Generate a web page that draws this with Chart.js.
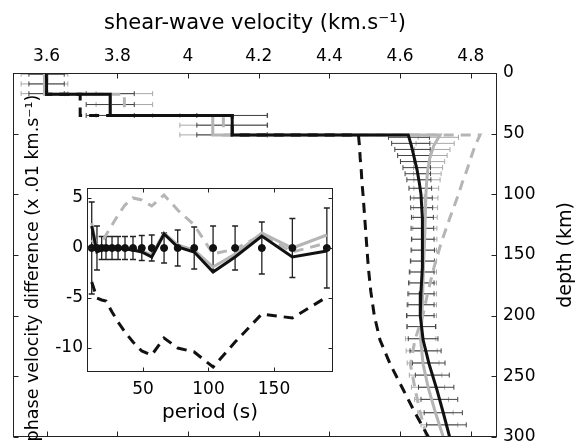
<!DOCTYPE html>
<html>
<head>
<meta charset="utf-8">
<script src="https://cdn.jsdelivr.net/npm/chart.js@4.4.0/dist/chart.umd.min.js"></script>
<style>
    html, body { margin: 0; padding: 0; background: #fff; }
    #wrap { position: relative; width: 581px; height: 444px; }
    #wrap canvas { position: absolute; left: 0; top: 0; }
</style>
</head>
<body>
<div id="wrap">
    <canvas id="mainChart" width="581" height="444"></canvas>
    <canvas id="insetChart" width="581" height="444"></canvas>
</div>
<script>
// ---- main plot: shear-wave velocity vs depth ----
const velTicks = [3.6, 3.8, 4, 4.2, 4.4, 4.6, 4.8];
const velTickLabels = ["3.6", "3.8", "4", "4.2", "4.4", "4.6", "4.8"];
const depthTicks = [0, 50, 100, 150, 200, 250, 300];
const depthTickLabels = ["0", "50", "100", "150", "200", "250", "300"];

// crustal layers (top depths) and layer velocities of each model
const crustTops = [0, 17.5, 35, 51];
const blackSolidCrust = [3.6, 3.78, 4.125];
const blackDashCrust = [3.6, 3.695, 4.125];
const graySolidCrust = [3.594, 3.78, 4.07];
const grayDashCrust = [3.6, 3.82, 4.1];

// mantle part
const mantleDepth = [51, 60, 70, 80, 90, 100, 120, 140, 160, 180, 200, 220, 240, 260, 280, 300];
const blackSolidMantle = [4.623, 4.632, 4.64, 4.648, 4.654, 4.659, 4.663, 4.664, 4.662, 4.659, 4.657, 4.665, 4.682, 4.703, 4.722, 4.74];
const blackDashMantle = [4.482, 4.485, 4.487, 4.49, 4.492, 4.495, 4.5, 4.505, 4.51, 4.517, 4.527, 4.543, 4.572, 4.607, 4.642, 4.68];
const graySolidMantle = [4.713, 4.695, 4.684, 4.678, 4.675, 4.673, 4.671, 4.669, 4.666, 4.664, 4.662, 4.658, 4.665, 4.68, 4.7, 4.722];
const grayDashMantle = [4.826, 4.812, 4.8, 4.789, 4.776, 4.765, 4.74, 4.716, 4.696, 4.679, 4.664, 4.642, 4.629, 4.642, 4.657, 4.675];

// horizontal error bars
const crustBarDepth = [1, 9, 17, 17, 26, 35, 35, 43, 51];
const crustDarkVs = [3.6, 3.6, 3.6, 3.78, 3.78, 3.78, 4.125, 4.125, 4.125];
const crustDarkErr = [0.05, 0.05, 0.05, 0.068, 0.068, 0.068, 0.1, 0.1, 0.1];
const crustGrayVs = [3.594, 3.594, 3.594, 3.82, 3.82, 3.82, 4.1, 4.1, 4.1];
const crustGrayErr = [0.066, 0.066, 0.066, 0.08, 0.08, 0.08, 0.123, 0.123, 0.123];

const mantleBarDepth = [53, 58, 63, 68, 73, 78, 83, 88, 95, 103, 111, 119, 128, 137, 146, 155, 164, 173, 182, 191, 200, 209, 219, 229, 239, 249, 259, 269, 280, 290];
const mantleDarkVs = [4.625, 4.63, 4.635, 4.639, 4.643, 4.647, 4.65, 4.653, 4.657, 4.66, 4.661, 4.663, 4.663, 4.664, 4.664, 4.663, 4.661, 4.66, 4.659, 4.658, 4.657, 4.66, 4.665, 4.672, 4.681, 4.691, 4.702, 4.711, 4.722, 4.731];
const mantleDarkErr = [0.058, 0.054, 0.05, 0.046, 0.042, 0.039, 0.036, 0.034, 0.032, 0.031, 0.031, 0.031, 0.032, 0.032, 0.033, 0.034, 0.035, 0.036, 0.037, 0.038, 0.039, 0.04, 0.042, 0.044, 0.046, 0.048, 0.05, 0.052, 0.054, 0.056];
const mantleGrayVs = [4.708, 4.699, 4.691, 4.686, 4.682, 4.679, 4.677, 4.676, 4.674, 4.673, 4.672, 4.671, 4.67, 4.669, 4.668, 4.667, 4.666, 4.665, 4.664, 4.663, 4.662, 4.66, 4.658, 4.661, 4.665, 4.672, 4.679, 4.689, 4.7, 4.711];
const mantleGrayErr = [0.057, 0.054, 0.05, 0.047, 0.044, 0.041, 0.039, 0.037, 0.035, 0.034, 0.034, 0.034, 0.034, 0.035, 0.035, 0.036, 0.037, 0.038, 0.039, 0.04, 0.041, 0.042, 0.043, 0.044, 0.045, 0.046, 0.047, 0.048, 0.05, 0.052];

// ---- inset: phase velocity difference vs period ----
const periodTicks = [50, 100, 150];
const periodTickLabels = ["50", "100", "150"];
const diffTicks = [-10, -5, 0, 5];
const diffTickLabels = ["-10", "-5", "0", "5"];

const periods = [10.9, 14.9, 18.5, 21.8, 26.4, 31, 36.3, 42.4, 49.1, 56.7, 66.1, 76.5, 89.1, 103.5, 120.3, 140.7, 164, 190.3];
const obsDiff = [0, 0, 0, 0, 0, 0, 0, 0, 0, 0, 0, 0, 0, 0, 0, 0, 0, 0];
const obsErr = [4.6, 2.2, 1.15, 1.15, 1.15, 1.15, 1.15, 1.15, 1.25, 1.3, 1.5, 1.8, 2.1, 2.2, 2.2, 2.6, 2.95, 4.0];
const blackSolidDiff = [2.2, -0.4, -0.2, 0.1, 0, 0, -0.1, -0.2, -0.4, -0.9, 1.4, 0.1, -0.4, -2.4, -0.9, 1.2, -0.9, -0.3];
const graySolidDiff = [2.5, -0.2, 0, 0.2, 0.1, 0.1, 0, -0.1, -0.3, -0.7, 1.5, 0.3, -0.2, -1.9, -0.6, 1.5, 0, 1.3];
const grayDashDiff = [0.8, 0.2, 0.6, 1.3, 2.3, 3.3, 4.3, 5.0, 4.8, 4.2, 5.3, 3.8, 2.3, -0.6, -0.1, 1.3, -0.4, 0.5];
const blackDashDiff = [-3.4, -5.0, -5.2, -5.3, -6.4, -7.4, -8.4, -9.4, -10.3, -10.7, -9.0, -10.0, -10.4, -11.9, -9.4, -6.6, -7.0, -4.9];

const BLACK = "#111";
const GRAY = "#b5b5b5";
const DASH = [10, 7];

Chart.defaults.font.family = "'DejaVu Sans', sans-serif";
Chart.defaults.color = "#000";

function profile(crust, mantle) {
    const pts = [];
    crust.forEach((v, i) => {
        pts.push({ x: v, y: crustTops[i] }, { x: v, y: crustTops[i + 1] });
    });
    mantle.forEach((v, i) => pts.push({ x: v, y: mantleDepth[i] }));
    return pts;
}

function pairs(xs, ys) {
    return xs.map((x, i) => ({ x: x, y: ys[i] }));
}

function fixedTicks(values) {
    return (scale) => { scale.ticks = values.map((v) => ({ value: v })); };
}

// pin an axis box to a set size and drop the label overflow padding
function pinSize(key, size) {
    return (s) => {
        s[key] = size;
        s.paddingTop = 0; s.paddingBottom = 0;
        s.paddingLeft = 0; s.paddingRight = 0;
    };
}

// frame + inward ticks on all four sides (matlab box)
const boxPlugin = {
    id: "box",
    beforeDraw(chart, args, opts) {
        if (!opts.fill) return;
        const { ctx, chartArea: a } = chart;
        ctx.save();
        ctx.fillStyle = opts.fill;
        ctx.fillRect(a.left, a.top, a.right - a.left, a.bottom - a.top);
        ctx.restore();
    },
    afterDraw(chart, args, opts) {
        const { ctx, chartArea: a } = chart;
        const len = opts.len || 5;
        const l = Math.round(a.left) + 0.5, r = Math.round(a.right) - 0.5;
        const t = Math.round(a.top) + 0.5, b = Math.round(a.bottom) - 0.5;
        ctx.save();
        ctx.strokeStyle = opts.color || "#222";
        ctx.lineWidth = 1;
        ctx.beginPath();
        chart.scales.x.ticks.forEach((tk) => {
            const px = Math.round(chart.scales.x.getPixelForValue(tk.value)) + 0.5;
            ctx.moveTo(px, t); ctx.lineTo(px, t + len);
            ctx.moveTo(px, b); ctx.lineTo(px, b - len);
        });
        chart.scales.y.ticks.forEach((tk) => {
            const py = Math.round(chart.scales.y.getPixelForValue(tk.value)) + 0.5;
            ctx.moveTo(l, py); ctx.lineTo(l + len, py);
            ctx.moveTo(r, py); ctx.lineTo(r - len, py);
        });
        ctx.stroke();
        ctx.strokeRect(l, t, r - l, b - t);
        ctx.restore();
    }
};

// error bars drawn through the chart scales
const errorBarPlugin = {
    id: "errorBars",
    beforeDatasetsDraw(chart, args, opts) {
        const { ctx, chartArea: a } = chart;
        const xs = chart.scales.x, ys = chart.scales.y;
        ctx.save();
        ctx.beginPath();
        ctx.rect(a.left, a.top, a.right - a.left, a.bottom - a.top);
        ctx.clip();
        opts.sets.forEach((set) => {
            ctx.strokeStyle = set.color;
            ctx.lineWidth = set.width;
            ctx.beginPath();
            set.pos.forEach((p, i) => {
                const c = set.center[i], e = set.err[i], h = set.cap;
                if (set.horizontal) {
                    const y = ys.getPixelForValue(p);
                    const x0 = xs.getPixelForValue(c - e), x1 = xs.getPixelForValue(c + e);
                    ctx.moveTo(x0, y); ctx.lineTo(x1, y);
                    ctx.moveTo(x0, y - h); ctx.lineTo(x0, y + h);
                    ctx.moveTo(x1, y - h); ctx.lineTo(x1, y + h);
                } else {
                    const x = xs.getPixelForValue(p);
                    const y0 = ys.getPixelForValue(c - e), y1 = ys.getPixelForValue(c + e);
                    ctx.moveTo(x, y0); ctx.lineTo(x, y1);
                    ctx.moveTo(x - h, y0); ctx.lineTo(x + h, y0);
                    ctx.moveTo(x - h, y1); ctx.lineTo(x + h, y1);
                }
            });
            ctx.stroke();
        });
        ctx.restore();
    }
};

// vertical axis titles reading bottom to top
const vTitlePlugin = {
    id: "vTitle",
    afterDraw(chart, args, opts) {
        const { ctx } = chart;
        ctx.save();
        ctx.translate(opts.x, opts.y);
        ctx.rotate(-Math.PI / 2);
        ctx.font = opts.size + "px 'DejaVu Sans', sans-serif";
        ctx.fillStyle = "#000";
        ctx.textAlign = "center";
        ctx.textBaseline = "middle";
        ctx.fillText(opts.text, 0, 0);
        ctx.restore();
    }
};

const lineSet = (label, data, color, dashed) => ({
    label: label,
    data: data,
    showLine: true,
    borderColor: color,
    backgroundColor: color,
    borderWidth: 3,
    borderDash: dashed ? DASH : [],
    pointRadius: 0,
    tension: 0,
});

const mainChart = new Chart(document.querySelector("#mainChart").getContext("2d"), {
    type: "scatter",
    data: {
        datasets: [
            lineSet("black solid", profile(blackSolidCrust, blackSolidMantle), BLACK, false),
            lineSet("black dashed", profile(blackDashCrust, blackDashMantle), BLACK, true),
            lineSet("gray solid", profile(graySolidCrust, graySolidMantle), GRAY, false),
            lineSet("gray dashed", profile(grayDashCrust, grayDashMantle), GRAY, true),
        ],
    },
    options: {
        responsive: false,
        animation: false,
        devicePixelRatio: 1,
        layout: { padding: { left: 13, right: 0, top: 0, bottom: 7 } },
        plugins: {
            legend: { display: false },
            tooltip: { enabled: false },
            box: { len: 5 },
            errorBars: {
                sets: [
                    { horizontal: true, color: "#a8a8a8", width: 1, cap: 2.5, pos: crustBarDepth, center: crustGrayVs, err: crustGrayErr },
                    { horizontal: true, color: "#a8a8a8", width: 1, cap: 2.5, pos: mantleBarDepth, center: mantleGrayVs, err: mantleGrayErr },
                    { horizontal: true, color: "#444", width: 1, cap: 2.5, pos: crustBarDepth, center: crustDarkVs, err: crustDarkErr },
                    { horizontal: true, color: "#444", width: 1, cap: 2.5, pos: mantleBarDepth, center: mantleDarkVs, err: mantleDarkErr },
                ],
            },
            vTitle: { text: "depth (km)", x: 566, y: 255, size: 19 },
        },
        scales: {
            x: {
                type: "linear",
                position: "top",
                bounds: "data",
                min: 3.505,
                max: 4.874,
                afterFit: pinSize("height", 73),
                afterBuildTicks: fixedTicks(velTicks),
                ticks: { callback: (v, i) => velTickLabels[i], padding: 6, font: { size: 17 }, maxRotation: 0, autoSkip: false },
                grid: { display: false, drawTicks: false },
                border: { display: false },
                title: { display: true, text: "shear-wave velocity (km.s⁻¹)", font: { size: 21 }, padding: { top: 11, bottom: 0 } },
            },
            y: {
                type: "linear",
                position: "right",
                reverse: true,
                bounds: "data",
                min: 0,
                max: 300,
                afterFit: pinSize("width", 84),
                afterBuildTicks: fixedTicks(depthTicks),
                ticks: { callback: (v, i) => depthTickLabels[i], padding: 6, font: { size: 17 }, autoSkip: false },
                grid: { display: false, drawTicks: false },
                border: { display: false },
            },
        },
    },
    plugins: [boxPlugin, errorBarPlugin, vTitlePlugin],
});

const insetChart = new Chart(document.querySelector("#insetChart").getContext("2d"), {
    type: "scatter",
    data: {
        datasets: [
            { label: "observed", data: pairs(periods, obsDiff), pointRadius: 3.5, pointBackgroundColor: BLACK, pointBorderColor: BLACK, showLine: false },
            lineSet("black solid", pairs(periods, blackSolidDiff), BLACK, false),
            lineSet("gray solid", pairs(periods, graySolidDiff), GRAY, false),
            lineSet("black dashed", pairs(periods, blackDashDiff), BLACK, true),
            lineSet("gray dashed", pairs(periods, grayDashDiff), GRAY, true),
        ],
    },
    options: {
        responsive: false,
        animation: false,
        devicePixelRatio: 1,
        layout: { padding: { left: 0, right: 248, top: 188, bottom: 0 } },
        plugins: {
            legend: { display: false },
            tooltip: { enabled: false },
            box: { len: 4, fill: "#fff" },
            errorBars: {
                sets: [
                    { horizontal: false, color: "#222", width: 1.3, cap: 3, pos: periods, center: obsDiff, err: obsErr },
                ],
            },
            vTitle: { text: "phase velocity difference (x .01 km.s⁻¹)", x: 33, y: 268, size: 17.5 },
        },
        scales: {
            x: {
                type: "linear",
                position: "bottom",
                bounds: "data",
                min: 7.3,
                max: 195,
                afterFit: pinSize("height", 72),
                afterBuildTicks: fixedTicks(periodTicks),
                ticks: { callback: (v, i) => periodTickLabels[i], padding: 7, font: { size: 17 }, maxRotation: 0, autoSkip: false },
                grid: { display: false, drawTicks: false },
                border: { display: false },
                title: { display: true, text: "period (s)", font: { size: 20 }, padding: { top: 0, bottom: 19 } },
            },
            y: {
                type: "linear",
                position: "left",
                bounds: "data",
                min: -12.4,
                max: 6,
                afterFit: pinSize("width", 87),
                afterBuildTicks: fixedTicks(diffTicks),
                ticks: { callback: (v, i) => diffTickLabels[i], padding: 4, font: { size: 17 }, autoSkip: false },
                grid: { display: false, drawTicks: false },
                border: { display: false },
            },
        },
    },
    plugins: [boxPlugin, errorBarPlugin, vTitlePlugin],
});
</script>
</body>
</html>
